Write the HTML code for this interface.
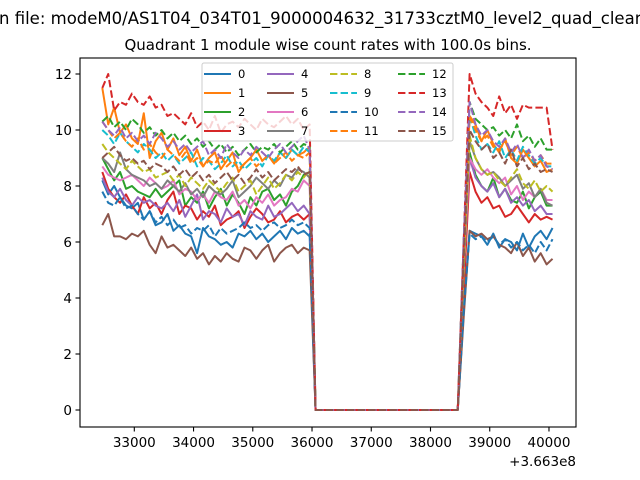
<!DOCTYPE html>
<html><head><meta charset="utf-8"><style>
html,body{margin:0;padding:0;background:#fff;width:640px;height:480px;overflow:hidden}
svg text{font-family:"DejaVu Sans","Liberation Sans",sans-serif;fill:#000}
</style></head><body>
<svg id="chart" width="640" height="480" viewBox="0 0 640 480">
<rect width="640" height="480" fill="#fff"/>
<text x="-1" y="24" font-size="16.5">n file: modeM0/AS1T04_034T01_9000004632_31733cztM0_level2_quad_clean.evt</text>
<text x="328" y="50" font-size="15" text-anchor="middle">Quadrant 1 module wise count rates with 100.0s bins.</text>
<g id="plot"></g>
<g id="axes"></g>
<g id="legend"></g>
</svg>
<script>
const seg1 = [
[8.2,7.7,8.0,7.6,7.3,7.2,7.4,6.8,7.1,6.6,6.7,7.0,6.4,6.6,6.3,6.2,5.6,6.5,6.2,6.1,5.9,6.0,5.8,6.3,6.2,6.4,6.1,6.3,6.0,6.2,6.4,6.1,6.5,6.3,6.4,6.2],
[11.5,10.2,10.8,9.9,10.2,9.7,9.5,10.6,9.0,9.6,9.9,9.3,9.7,9.1,9.4,8.9,9.3,8.7,9.0,9.2,8.6,8.9,9.2,8.5,8.8,9.0,9.3,8.9,9.1,8.8,9.2,9.0,9.3,9.1,9.2,9.4],
[9.0,8.6,8.2,8.5,7.9,8.0,7.8,7.7,7.6,7.9,7.6,7.8,8.0,8.2,7.3,7.6,7.4,7.8,7.2,7.6,7.9,7.3,7.7,7.4,7.0,7.6,7.3,7.8,7.9,7.5,7.7,7.3,7.8,8.0,8.4,8.5],
[8.5,7.9,7.6,7.4,7.7,7.3,7.0,7.6,7.2,7.4,7.0,7.5,7.8,7.0,7.3,7.2,6.8,7.1,6.9,7.3,6.6,6.8,6.9,7.1,6.5,6.9,7.2,7.0,6.7,6.8,7.1,6.7,6.9,7.0,6.8,7.0],
[8.3,7.8,7.6,7.9,7.5,7.3,7.6,7.4,7.5,7.3,7.2,7.4,7.1,7.5,6.9,7.3,7.7,6.8,7.1,7.0,6.7,7.2,6.9,7.0,6.6,7.1,6.9,6.8,7.3,6.9,7.0,7.2,7.4,7.1,7.3,7.0],
[6.6,7.0,6.2,6.2,6.1,6.3,6.2,6.4,5.9,5.6,6.2,5.8,5.9,5.7,5.5,5.8,5.4,5.6,5.2,5.5,5.3,5.6,5.4,5.3,5.8,5.7,5.4,5.7,5.9,5.3,5.6,5.8,5.9,5.6,5.8,5.7],
[8.7,8.4,8.3,8.2,8.3,8.4,8.2,8.0,8.3,8.1,7.9,8.0,8.2,7.7,7.9,7.8,7.5,7.7,7.4,7.8,7.6,7.5,7.8,7.3,7.5,7.2,7.6,7.4,7.7,7.3,7.5,7.6,7.9,7.8,8.2,8.0],
[9.0,8.8,8.5,9.2,8.6,8.4,8.3,8.2,8.0,8.1,7.9,8.2,8.0,7.8,8.1,7.7,7.9,7.6,8.0,7.8,7.7,7.9,8.2,7.6,7.8,8.0,8.3,8.1,7.9,8.2,8.0,8.4,8.3,8.6,8.5,8.3],
[9.5,9.2,9.0,8.8,8.6,8.9,8.7,8.5,8.6,8.3,8.4,8.5,8.2,8.4,8.0,8.3,8.1,7.9,8.2,8.0,7.8,8.1,8.3,7.8,8.0,8.2,7.7,8.0,8.3,7.9,8.1,8.4,8.2,8.5,8.3,8.6],
[10.0,9.8,9.5,9.9,9.6,9.4,9.2,9.5,9.3,9.0,9.2,8.9,9.1,8.8,9.0,9.2,8.7,9.0,8.9,8.6,8.8,9.1,8.7,8.9,8.6,8.8,9.0,8.7,9.1,8.9,9.2,9.0,9.3,9.1,9.4,9.2],
[7.8,7.4,7.3,7.6,7.2,7.3,7.0,6.8,7.1,6.7,6.9,6.6,6.8,6.5,6.6,6.3,6.5,6.4,6.6,6.2,6.5,6.3,6.4,6.5,6.7,6.5,6.6,6.4,6.6,6.7,6.5,6.6,6.8,6.6,6.7,6.5],
[10.3,10.0,9.7,9.9,9.6,9.4,9.7,9.3,9.5,9.2,9.0,9.3,9.1,8.9,9.2,8.8,9.0,8.7,8.9,8.8,9.1,8.7,8.9,8.6,8.8,9.0,8.7,8.9,9.1,8.8,9.0,9.2,8.9,9.1,9.0,9.2],
[10.3,10.5,10.1,10.3,10.0,10.4,10.2,9.9,10.1,9.8,10.0,9.7,9.9,9.6,9.8,9.5,9.7,9.4,9.6,9.3,9.5,9.2,9.4,9.1,9.3,9.5,9.2,9.4,9.3,9.5,9.2,9.4,9.6,9.3,9.5,9.4],
[11.5,12.0,10.7,11.0,10.9,11.3,11.0,10.9,11.2,10.8,10.9,10.5,10.6,10.4,10.2,10.6,10.1,10.3,10.0,10.5,9.9,10.2,10.3,10.1,10.4,10.2,10.0,10.4,10.2,10.1,10.3,10.5,10.2,10.4,10.0,10.2],
[10.3,10.0,9.8,10.1,9.7,9.9,9.6,9.8,9.5,9.9,9.7,9.4,9.6,9.3,9.5,9.2,9.4,9.6,9.1,9.3,9.0,9.5,9.2,9.0,9.3,9.1,9.4,9.2,9.0,9.3,9.5,9.2,9.4,9.6,9.8,9.3],
[9.0,9.2,9.4,9.1,8.9,9.0,8.8,8.9,8.6,8.8,8.7,8.5,8.7,8.4,8.6,8.3,8.5,8.2,8.4,8.1,8.3,8.5,8.2,8.4,8.1,8.3,8.6,8.3,8.5,8.2,8.4,8.6,8.5,8.7,8.4,8.5]
];
const seg2 = [
[3.5,6.4,6.3,6.2,5.9,6.3,5.8,6.1,6.0,5.7,6.3,5.8,6.2,6.4,6.1,6.5],
[5.0,10.5,10.2,9.6,10.0,9.5,9.2,9.7,9.0,8.8,9.3,9.0,8.7,8.9,8.5,8.6],
[4.5,9.2,8.4,8.0,7.8,8.3,7.6,7.9,7.5,7.4,7.8,7.2,7.6,7.8,7.3,7.3],
[4.2,8.5,7.8,7.4,7.6,7.2,7.3,6.9,7.0,7.3,7.0,6.7,7.0,6.8,6.9,6.8],
[5.0,9.0,8.3,8.0,7.8,8.1,7.6,7.9,7.4,7.6,7.3,7.5,7.1,7.3,7.0,7.0],
[3.3,6.4,6.2,6.3,6.1,6.2,5.9,5.8,5.6,6.0,5.5,5.8,5.3,5.6,5.2,5.4],
[5.0,9.0,8.6,8.4,8.6,8.3,8.1,8.3,7.7,8.0,7.5,7.8,7.6,7.9,7.5,7.5],
[5.0,9.6,9.0,8.6,8.4,8.5,8.3,8.0,8.2,8.4,7.9,8.1,7.6,7.9,7.4,7.3],
[5.0,9.8,9.0,8.6,8.4,8.5,8.2,8.0,8.3,8.6,8.1,7.9,8.2,7.8,8.0,7.8],
[5.5,10.5,9.8,9.3,9.5,9.2,9.6,9.0,9.3,8.9,9.4,9.1,8.8,9.0,8.7,8.7],
[3.5,6.3,6.1,6.2,6.0,6.2,5.9,6.1,5.8,6.0,5.7,5.9,5.6,6.0,5.7,6.1],
[5.5,10.5,10.0,9.6,9.8,9.4,9.3,9.6,9.1,9.4,9.0,9.2,8.9,9.1,8.8,8.8],
[6.0,11.0,10.4,10.2,10.0,10.1,9.8,10.0,9.7,10.2,9.6,9.8,9.4,9.7,9.3,9.3],
[6.0,12.0,11.3,11.0,10.8,10.5,11.2,10.6,10.9,10.4,10.9,10.8,10.8,10.8,10.8,9.3],
[6.0,11.0,10.2,9.8,10.0,9.6,9.4,9.7,9.2,9.5,9.0,9.3,8.9,9.1,8.7,8.6],
[5.5,10.0,9.6,9.3,9.5,9.0,9.2,8.8,9.3,8.7,9.0,8.6,8.8,8.5,8.6,8.5]
];
const seriesNames = ["0","1","2","3","4","5","6","7","8","9","10","11","12","13","14","15"];
const xTicks = [33000,34000,35000,36000,37000,38000,39000,40000];
const yTicks = [0,2,4,6,8,10,12];
const tStart = 32460, tStep = 100, gapCount = 25;

const colors=["#1f77b4","#ff7f0e","#2ca02c","#d62728","#9467bd","#8c564b","#e377c2","#7f7f7f","#bcbd22","#17becf","#1f77b4","#ff7f0e","#2ca02c","#d62728","#9467bd","#8c564b"];
const L=80,R=576,T=58,B=427;
const xs=t=>134.3+(t-33000)*0.05924;
const ys=v=>410-v*28;
const NS="http://www.w3.org/2000/svg";
function mk(tag,attrs,parent){const e=document.createElementNS(NS,tag);for(const k in attrs)e.setAttribute(k,attrs[k]);parent.appendChild(e);return e;}
const plot=document.getElementById('plot'),axes=document.getElementById('axes'),leg=document.getElementById('legend');

seriesNames.forEach((nm,i)=>{
  const vals=seg1[i].concat(new Array(gapCount).fill(0)).concat(seg2[i]);
  const pts=vals.map((v,k)=>xs(tStart+k*tStep).toFixed(2)+","+ys(v).toFixed(2)).join(" ");
  const pl=mk('polyline',{points:pts,fill:"none",stroke:colors[i],"stroke-width":2,"stroke-linejoin":"round"},plot);
  if(i>=8) pl.setAttribute('stroke-dasharray','7.4,3.2');
  
  
});

const frame=mk('rect',{x:L,y:T,width:R-L,height:B-T,fill:"none",stroke:"#000","stroke-width":1.1},axes);


xTicks.forEach(t=>{
  const x=xs(t);
  const tk=mk('line',{x1:x,x2:x,y1:B,y2:B+4.5,stroke:"#000","stroke-width":1.1},axes);
  
  
  const tx=mk('text',{x:x,y:B+20,"font-size":13.5,"text-anchor":"middle"},axes);tx.textContent=t;
  
  
});
yTicks.forEach(v=>{
  const y=ys(v);
  const tk=mk('line',{x1:L-4.5,x2:L,y1:y,y2:y,stroke:"#000","stroke-width":1.1},axes);
  
  
  const tx=mk('text',{x:L-8,y:y+5,"font-size":13.5,"text-anchor":"end"},axes);tx.textContent=v;
  
  
});
const off=mk('text',{x:R,y:466,"font-size":13.5,"text-anchor":"end"},axes);off.textContent="+3.663e8";



const box=mk('rect',{x:202,y:63,width:251,height:78,rx:2,fill:"#fff","fill-opacity":0.8,stroke:"#ccc","stroke-width":1},leg);


const colX=[204,267,330,398];
seriesNames.forEach((nm,i)=>{
  const c=Math.floor(i/4),r=i%4;
  const x=colX[c],y=74+r*19;
  const g=mk('g',{},leg);
  
  
  const ln=mk('line',{x1:x,x2:x+27,y1:y,y2:y,stroke:colors[i],"stroke-width":2},g);
  if(i>=8) ln.setAttribute('stroke-dasharray','7.4,3.2');
  const tx=mk('text',{x:x+34,y:y+4,"font-size":11.5},g);tx.textContent=nm;
});
</script>
</body></html>
